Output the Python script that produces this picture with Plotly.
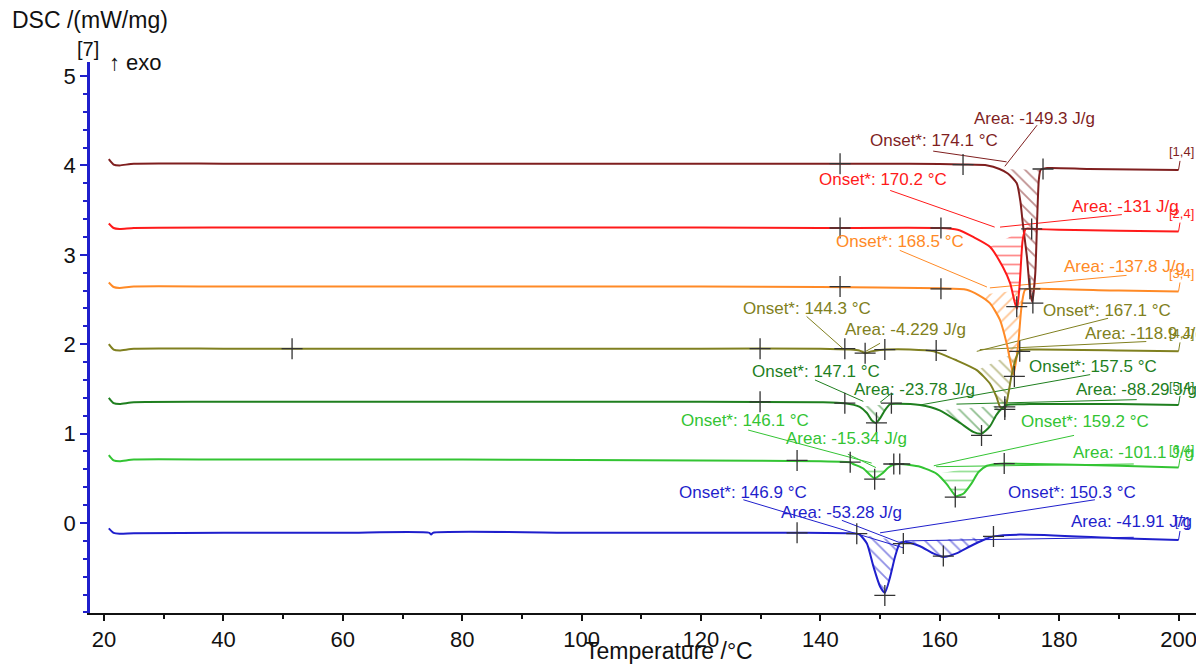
import plotly.graph_objects as go

# ---------------- data ----------------
S1_x = [20.8, 21.6, 22.6, 25, 40, 60, 80, 100, 120, 140, 150, 160, 164, 168, 170, 171.4, 172.9, 173.5, 173.9, 174.6, 175.1, 175.5, 176.0, 176.3, 176.6, 176.9, 178, 185, 200]
S1_y = [4.07, 4.01, 4.00, 4.02, 4.02, 4.02, 4.02, 4.02, 4.02, 4.02, 4.02, 4.015, 4.01, 4.00, 3.96, 3.91, 3.80, 3.60, 3.36, 2.98, 2.61, 2.47, 2.79, 3.36, 3.84, 3.95, 3.97, 3.96, 3.95]

S2_x = [20.8, 21.6, 22.6, 25, 40, 60, 80, 100, 120, 140, 160, 163, 165.6, 168.4, 170.6, 171.8, 172.6, 172.95, 173.4, 173.9, 174.4, 175.5, 180, 190, 200]
S2_y = [3.35, 3.30, 3.29, 3.30, 3.305, 3.305, 3.305, 3.305, 3.305, 3.30, 3.30, 3.28, 3.20, 3.09, 2.86, 2.68, 2.46, 2.40, 2.68, 3.17, 3.29, 3.29, 3.28, 3.27, 3.26]

S3_x = [20.8, 21.6, 22.6, 25, 40, 60, 80, 100, 120, 140, 160, 164.5, 166.5, 168.4, 170.1, 171.2, 172.0, 172.35, 173.1, 173.7, 174.3, 176, 190, 200]
S3_y = [2.69, 2.64, 2.63, 2.645, 2.645, 2.645, 2.645, 2.645, 2.645, 2.64, 2.625, 2.61, 2.55, 2.46, 2.27, 2.01, 1.75, 1.66, 1.97, 2.42, 2.61, 2.62, 2.60, 2.59]

S4_x = [20.8, 21.6, 22.6, 25, 40, 60, 80, 100, 120, 140, 145, 146.5, 147.5, 148.5, 150, 151, 155, 159, 162.8, 166.2, 168.4, 169.5, 170.1, 170.9, 171.5, 172.0, 172.8, 173.4, 176, 190, 200]
S4_y = [2.00, 1.94, 1.93, 1.95, 1.95, 1.95, 1.95, 1.95, 1.95, 1.95, 1.94, 1.93, 1.90, 1.92, 1.935, 1.94, 1.94, 1.92, 1.82, 1.71, 1.56, 1.41, 1.30, 1.28, 1.45, 1.64, 1.85, 1.93, 1.94, 1.93, 1.92]

S5_x = [20.8, 21.6, 22.6, 25, 40, 60, 80, 100, 120, 140, 144, 146.6, 147.8, 148.6, 149.3, 150.0, 150.8, 151.7, 153, 156.7, 160.0, 163.4, 165.6, 167.0, 168.4, 169.5, 170.4, 171.2, 175, 190, 200]
S5_y = [1.40, 1.34, 1.33, 1.35, 1.355, 1.355, 1.355, 1.355, 1.355, 1.35, 1.34, 1.30, 1.23, 1.15, 1.12, 1.17, 1.26, 1.33, 1.335, 1.32, 1.26, 1.12, 1.02, 1.00, 1.08, 1.21, 1.28, 1.32, 1.33, 1.33, 1.32]

S6_x = [20.8, 21.6, 22.6, 25, 40, 60, 80, 100, 120, 140, 145, 145.5, 147.2, 148.3, 149.1, 150.3, 151.4, 152.2, 153.3, 156.7, 159.5, 161.1, 162.3, 162.7, 164.0, 165.3, 166.5, 167.9, 169.5, 171, 190, 200]
S6_y = [0.76, 0.70, 0.69, 0.71, 0.71, 0.71, 0.71, 0.705, 0.70, 0.69, 0.68, 0.66, 0.61, 0.54, 0.50, 0.55, 0.62, 0.65, 0.66, 0.63, 0.55, 0.44, 0.33, 0.30, 0.33, 0.44, 0.57, 0.64, 0.66, 0.665, 0.64, 0.62]

S7_x = [20.8, 21.6, 22.6, 25, 40, 60, 74.5, 74.8, 75.1, 100, 120, 136, 146.1, 146.6, 147.8, 148.9, 150.0, 150.8, 151.7, 152.5, 153.3, 154.2, 156.7, 158.9, 160.6, 162.8, 165.1, 167.3, 169.0, 173.4, 190, 200]
S7_y = [-0.06, -0.11, -0.12, -0.115, -0.11, -0.11, -0.11, -0.13, -0.11, -0.11, -0.11, -0.11, -0.12, -0.13, -0.23, -0.49, -0.71, -0.78, -0.60, -0.38, -0.23, -0.21, -0.26, -0.34, -0.38, -0.34, -0.26, -0.19, -0.15, -0.13, -0.17, -0.19]

SERIES_X = [S1_x, S2_x, S3_x, S4_x, S5_x, S6_x, S7_x]
SERIES_Y = [S1_y, S2_y, S3_y, S4_y, S5_y, S6_y, S7_y]
SERIES_COLORS = ["#7f1f1f", "#ff1a1a", "#ff8a26", "#808020", "#1f7f1f", "#33c433", "#1f1fcc"]
END_LABELS = ["[1,4]", "[2,4]", "[3,4]", "[4,4]", "[5,4]", "[6,4]", "[7]"]

# crosshair marks (x, y) per series
MARK_X = [[143.3, 163.9, 177.3, 175.6],
          [143.3, 160.2, 175.4, 172.9],
          [143.3, 160.2, 175.1, 172.5],
          [51.5, 129.9, 144.1, 147.5, 150.8, 159.4, 173.4, 170.9],
          [129.9, 144.1, 149.4, 151.9, 170.9, 167.0],
          [136.1, 145.0, 149.1, 152.3, 153.3, 170.8, 162.6],
          [136.1, 146.1, 150.8, 153.9, 160.6, 169.0]]
MARK_Y = [[4.02, 4.01, 3.96, 2.46],
          [3.30, 3.30, 3.29, 2.42],
          [2.645, 2.62, 2.62, 1.64],
          [1.95, 1.95, 1.95, 1.90, 1.94, 1.93, 1.92, 1.30],
          [1.355, 1.34, 1.12, 1.34, 1.27, 0.98],
          [0.70, 0.68, 0.49, 0.66, 0.66, 0.665, 0.29],
          [-0.11, -0.12, -0.81, -0.23, -0.37, -0.15]]

# hatched peak areas: series index, x from, x to, hatch
PEAK_SERIES = [0, 1, 2, 3, 3, 4, 4, 5, 5, 6, 6]
PEAK_FROM = [170.0, 168.0, 166.5, 146.5, 163.0, 146.6, 157.0, 146.5, 158.0, 146.6, 154.2]
PEAK_TO = [176.9, 174.4, 174.3, 150.0, 173.4, 151.7, 171.2, 152.2, 169.5, 154.2, 169.0]
PEAK_HATCH = ["\\", "-", "/", "\\", "\\", "\\", "\\", "-", "-", "\\", "\\"]

# evaluation labels: series index, text, text x, text y, leader from (x,y) to (x,y)
LAB_SERIES = [0, 0, 1, 1, 2, 2, 3, 3, 3, 3, 4, 4, 4, 4, 5, 5, 5, 5, 6, 6, 6, 6]
LAB_TEXT = ["Area: -149.3 J/g", "Onset*: 174.1 °C",
            "Onset*: 170.2 °C", "Area: -131 J/g",
            "Onset*: 168.5 °C", "Area: -137.8 J/g",
            "Onset*: 144.3 °C", "Area: -4.229 J/g", "Onset*: 167.1 °C", "Area: -118.9 J/g",
            "Onset*: 147.1 °C", "Area: -23.78 J/g", "Onset*: 157.5 °C", "Area: -88.29 J/g",
            "Onset*: 146.1 °C", "Area: -15.34 J/g", "Onset*: 159.2 °C", "Area: -101.1 J/g",
            "Onset*: 146.9 °C", "Area: -53.28 J/g", "Onset*: 150.3 °C", "Area: -41.91 J/g"]
LAB_X = [175.9, 159.0, 150.5, 191.2, 153.3, 191.0, 137.8, 154.2, 188.1, 194.4,
         139.2, 155.7, 185.6, 193.0, 127.4, 144.3, 184.3, 192.4, 127.1, 143.5, 182.2, 192.2]
LAB_Y = [4.53, 4.28, 3.84, 3.54, 3.15, 2.87, 2.40, 2.16, 2.38, 2.12,
         1.69, 1.49, 1.75, 1.49, 1.15, 0.94, 1.14, 0.79, 0.34, 0.12, 0.34, 0.02]
LEAD_X0 = [176.3, 158.9, 151.7, 190.5, 153.3, 191.3, 137.7, 150.0, 188.2, 194.6,
           139.1, 151.9, 185.2, 193.0, 127.9, 144.6, 182.5, 192.5, 127.1, 143.6, 186.0, 192.5]
LEAD_Y0 = [4.45, 4.16, 3.72, 3.45, 3.05, 2.77, 2.31, 2.01, 2.29, 2.03,
           1.60, 1.45, 1.66, 1.38, 1.04, 0.77, 0.98, 0.66, 0.26, 0.03, 0.26, -0.16]
LEAD_X1 = [170.9, 171.2, 169.2, 170.1, 167.9, 168.4, 143.8, 147.6, 166.2, 166.7,
           147.2, 150.0, 156.7, 162.8, 148.6, 149.3, 159.0, 159.4, 154.0, 153.3, 150.0, 154.2]
LEAD_Y1 = [3.99, 4.04, 3.31, 3.31, 2.64, 2.63, 1.95, 1.92, 1.92, 1.94,
           1.36, 1.35, 1.32, 1.33, 0.67, 0.62, 0.64, 0.63, -0.28, -0.22, -0.11, -0.20]

FONT = "Liberation Sans, Arial, sans-serif"

fig = go.Figure()

# hatched areas
for s, a, b, h in zip(PEAK_SERIES, PEAK_FROM, PEAK_TO, PEAK_HATCH):
    px = [x for x in SERIES_X[s] if a <= x <= b]
    py = [y for x, y in zip(SERIES_X[s], SERIES_Y[s]) if a <= x <= b]
    fig.add_trace(go.Scatter(x=px, y=py, mode="none", fill="toself",
                             fillcolor="rgba(0,0,0,0)",
                             fillpattern=dict(shape=h, fgcolor=SERIES_COLORS[s],
                                              bgcolor="rgba(0,0,0,0)", size=9, solidity=0.2),
                             hoverinfo="skip", showlegend=False))

# leader lines
for s in range(7):
    lx, ly = [], []
    for i, ss in enumerate(LAB_SERIES):
        if ss == s:
            lx += [LEAD_X0[i], LEAD_X1[i], None]
            ly += [LEAD_Y0[i], LEAD_Y1[i], None]
    fig.add_trace(go.Scatter(x=lx, y=ly, mode="lines",
                             line=dict(color=SERIES_COLORS[s], width=1),
                             hoverinfo="skip", showlegend=False))

# curves
for s in range(7):
    fig.add_trace(go.Scatter(x=SERIES_X[s], y=SERIES_Y[s], mode="lines",
                             line=dict(color=SERIES_COLORS[s], width=2, shape="spline", smoothing=0.6),
                             showlegend=False))

# crosshair marks
for s in range(7):
    fig.add_trace(go.Scatter(x=MARK_X[s], y=MARK_Y[s], mode="markers",
                             marker=dict(symbol="cross-thin-open", size=15, color="#333333",
                                         line=dict(color="#333333", width=1.3)),
                             hoverinfo="skip", showlegend=False))

annotations = []
for i, t in enumerate(LAB_TEXT):
    annotations.append(dict(x=LAB_X[i], y=LAB_Y[i], xref="x", yref="y", text=t,
                            showarrow=False, font=dict(family=FONT, size=17,
                                                       color=SERIES_COLORS[LAB_SERIES[i]])))
for s in range(7):
    annotations.append(dict(x=SERIES_X[s][-1], y=SERIES_Y[s][-1], xref="x", yref="y",
                            text=END_LABELS[s], showarrow=True, arrowhead=0, arrowwidth=1,
                            arrowcolor=SERIES_COLORS[s], ax=3, ay=-18,
                            font=dict(family=FONT, size=13, color=SERIES_COLORS[s])))

annotations += [
    dict(x=-0.072, y=1.076, xref="paper", yref="paper", xanchor="left", yanchor="middle",
         text="DSC /(mW/mg)", showarrow=False, font=dict(family=FONT, size=23, color="#111")),
    dict(x=-0.002, y=1.024, xref="paper", yref="paper", xanchor="center", yanchor="middle",
         text="[7]", showarrow=False, font=dict(family=FONT, size=20, color="#111")),
    dict(x=0.041, y=1.0, xref="paper", yref="paper", xanchor="center", yanchor="middle",
         text="↑ exo", showarrow=False, font=dict(family=FONT, size=22, color="#111")),
    dict(x=0.52, y=-0.069, xref="paper", yref="paper", xanchor="center", yanchor="middle",
         text="Temperature /°C", showarrow=False, font=dict(family=FONT, size=23, color="#111")),
]

# page body has an 8px margin, so the figure is drawn 8px smaller and offset
fig.update_layout(
    width=1196, height=658,
    margin=dict(l=82, r=1, t=54, b=53),
    paper_bgcolor="white", plot_bgcolor="white",
    annotations=annotations,
    font=dict(family=FONT, color="#111"),
    xaxis=dict(range=[17.65, 204.1], tickmode="array", tickvals=[20, 40, 60, 80, 100, 120, 140, 160, 180, 200],
               ticks="outside", ticklen=6, tickwidth=1.5, tickcolor="#111",
               minor=dict(tickvals=[30, 50, 70, 90, 110, 130, 150, 170, 190], ticks="outside",
                          ticklen=4, tickwidth=1.5, tickcolor="#111"),
               showline=True, linecolor="#111", linewidth=2, showgrid=False, zeroline=False,
               tickfont=dict(family=FONT, size=22, color="#111")),
    yaxis=dict(range=[-1.007, 5.157], tickmode="array", tickvals=[0, 1, 2, 3, 4, 5],
               ticks="outside", ticklen=7, tickwidth=1.5, tickcolor="#1f1fcc",
               minor=dict(dtick=0.2, tick0=0, ticks="outside", ticklen=4, tickwidth=1.5,
                          tickcolor="#1f1fcc"),
               showline=True, linecolor="#1f1fcc", linewidth=2.5, showgrid=False, zeroline=False,
               tickfont=dict(family=FONT, size=22, color="#111")),
)

fig.write_html("out.html")
